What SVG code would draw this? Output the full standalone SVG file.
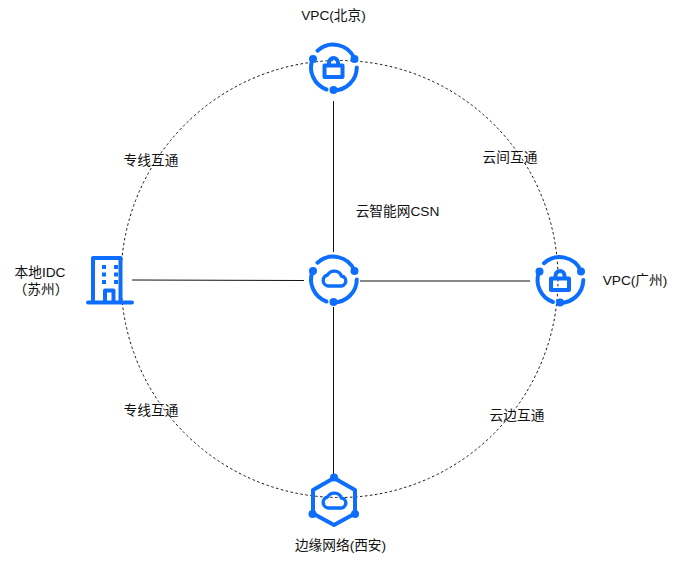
<svg xmlns="http://www.w3.org/2000/svg" width="681" height="561" viewBox="0 0 681 561">
<style>
text{font-family:"Liberation Sans","Noto Sans CJK SC",sans-serif;font-size:13.700px;fill:#111;text-anchor:middle}
.ln{stroke:#111;stroke-width:1;fill:none}
.ic{stroke:#0d6efd;stroke-width:4;fill:none;stroke-linecap:round;stroke-linejoin:round}
.dot{fill:#0d6efd}
.win{fill:#0d6efd}
.cl{stroke:#0d6efd;stroke-width:3.400;fill:none;stroke-linejoin:round}
</style>
<defs>
<g id="ring">
<path class="ic" d="M-16 -16.800A23.300 23.300 0 0 1 21 -9"/>
<path class="ic" d="M23.300 0A23.300 23.300 0 0 1 0 23"/>
<path class="ic" d="M-21 -8A23.300 23.300 0 0 0 -7 22"/>
<circle class="dot" cx="-20.500" cy="-8.500" r="4"/>
<circle class="dot" cx="21" cy="-8.500" r="4"/>
<circle class="dot" cx="0" cy="22.500" r="4"/>
</g>
<g id="lock">
<rect class="ic" x="-9" y="-4.500" width="18" height="11.500" stroke-linejoin="miter"/>
<path class="ic" d="M-4.500 -5V-7.500A4.500 4.500 0 0 1 4.500 -7.500V-5"/>
</g>
<path id="cloud" class="cl" d="M-6 8H6A5 5 0 0 0 7.500 -2A7.800 7.800 0 0 0 -6.500 -3A5.600 5.600 0 0 0 -6 8Z"/>
</defs>
<g id="connectors">
<circle cx="339.500" cy="279" r="218.500" fill="none" stroke="#111" stroke-width="1" stroke-dasharray="2.500 2.500"/>
<path class="ln" d="M333.500 101V252M333.500 307V475M132 280L304 280.500M360 281L530 281"/>
</g>
<g id="vpc-beijing"><use href="#ring" x="333.500" y="67.500"/><use href="#lock" x="333.500" y="70"/><text x="333.500" y="19.500">VPC(北京)</text></g>
<g id="csn"><use href="#ring" x="333.500" y="279.500"/><use href="#cloud" x="334" y="278"/><text x="397.500" y="215.500">云智能网CSN</text></g>
<g id="vpc-guangzhou"><use href="#ring" x="560" y="280"/><use href="#lock" x="560" y="283"/><text x="635" y="284.500">VPC(广州)</text></g>
<g id="idc">
<path class="ic" d="M93 302V258H120.500V302M88 302.500H132M105 302V290.500H113.500V302" stroke-linejoin="miter" stroke-linecap="butt"/>
<g class="win"><rect x="102" y="265" width="4" height="4"/><rect x="114" y="265" width="4" height="4"/><rect x="102" y="272.500" width="4" height="4"/><rect x="114" y="272.500" width="4" height="4"/><rect x="102" y="280" width="4" height="4"/><rect x="114" y="280" width="4" height="4"/></g>
<text x="40" y="276.500">本地IDC</text><text x="41" y="293.500">（苏州）</text>
</g>
<g id="edge">
<path class="ic" d="M334 478L355 490V513.500L334 525L313 513.500V490Z"/>
<circle class="dot" cx="334" cy="477.500" r="4"/><circle class="dot" cx="312.500" cy="514" r="4"/><circle class="dot" cx="355" cy="514" r="4"/>
<use href="#cloud" x="334" y="500"/>
<text x="340.500" y="549.500">边缘网络(西安)</text>
</g>
<g id="labels">
<text x="151" y="164.500">专线互通</text><text x="510" y="161.500">云间互通</text><text x="151" y="414.500">专线互通</text><text x="517" y="419.500">云边互通</text>
</g>
</svg>
